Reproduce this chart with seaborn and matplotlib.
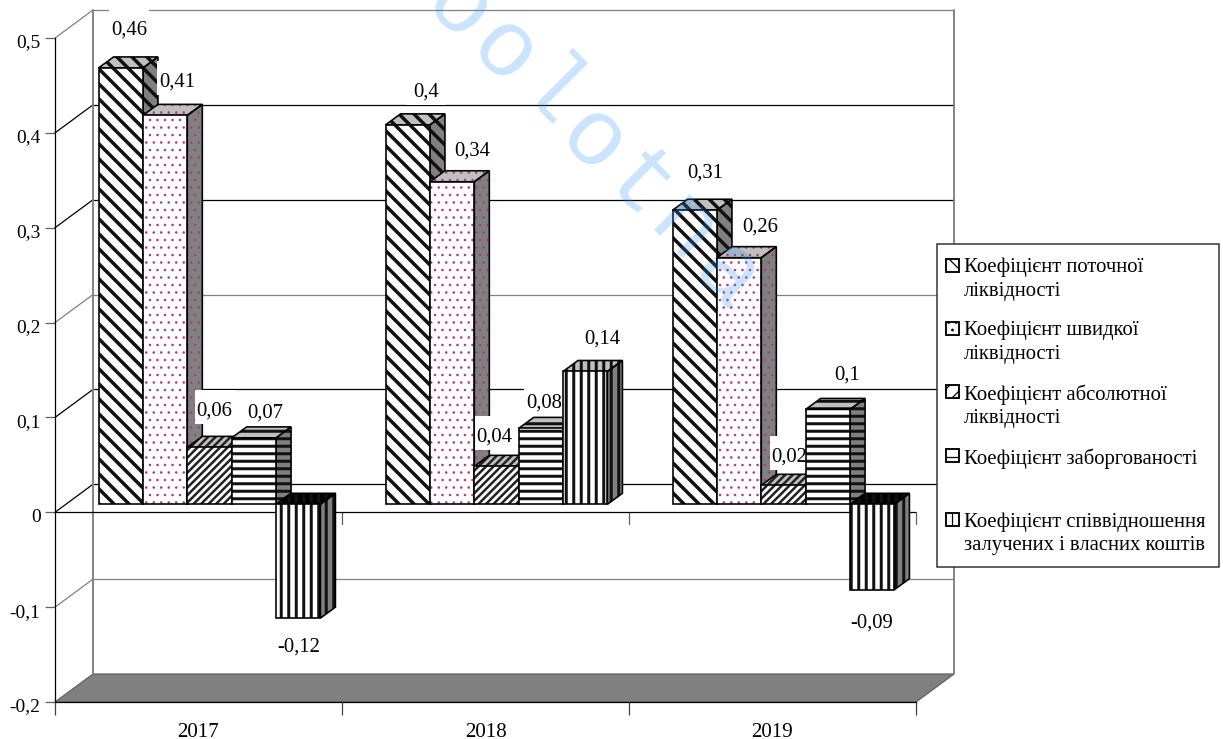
import numpy as np
import pandas as pd
import matplotlib
matplotlib.use("Agg")
import matplotlib.pyplot as plt
import seaborn as sns
from matplotlib.patches import Polygon, Patch, Rectangle
from matplotlib.legend_handler import HandlerPatch
from matplotlib.ticker import FuncFormatter
from matplotlib.transforms import IdentityTransform, ScaledTranslation

# дані
years = ["2017", "2018", "2019"]
series_names = [
    "Коефіцієнт поточної\nліквідності",
    "Коефіцієнт швидкої\nліквідності",
    "Коефіцієнт абсолютної\nліквідності",
    "Коефіцієнт заборгованості\n ",
    "Коефіцієнт співвідношення\nзалучених і власних коштів",
]
current_ratio = [0.46, 0.40, 0.31]
quick_ratio = [0.41, 0.34, 0.26]
absolute_ratio = [0.06, 0.04, 0.02]
debt_ratio = [0.07, 0.08, 0.10]
leverage_ratio = [-0.12, 0.14, -0.09]

# зсув підписів від вершини стовпця, пікселі
label_shift = [
    [(8, 39), (18, 34), (10, 38)],
    [(12, 34), (20, 32), (21, 32)],
    [(5, 37), (-2, 30), (6, 29)],
    [(11, 26), (3, 26), (19, 35)],
    [(0, -28), (17, 33), (-1, -32)],
]

# стиль кожного ряду
hatches = ["\\\\", "..", "////", "--", "||"]
hatch_widths = [2.8, 0.8, 2.0, 2.4, 2.4]
hatch_colors = ["#111111", "#b03a78", "#222222", "#111111", "#111111"]
legend_hatches = ["\\\\", "..", "//", "-", "|"]

DPI = 90
W, H = 1223, 740
FONT = 15.5
LABEL_FONT = 16.5

sns.set_theme(style="white")
plt.rcParams["font.family"] = ["Liberation Serif", "DejaVu Serif"]
plt.rcParams["axes.unicode_minus"] = False

df = pd.DataFrame({
    "year": years * 5,
    "series": np.repeat(series_names, 3),
    "value": current_ratio + quick_ratio + absolute_ratio + debt_ratio + leverage_ratio,
})

fig = plt.figure(figsize=(W / DPI, H / DPI), dpi=DPI, facecolor="white")


def px_axes(left, top, right, bottom):
    return [left / W, 1 - bottom / H, (right - left) / W, (bottom - top) / H]


# передня площина: осі та стінки
ax = fig.add_axes(px_axes(55, 39, 916, 703), facecolor="none")
ax.set_xlim(-0.5, 2.5)
ax.set_ylim(-0.2, 0.5)

# площина стовпців трохи зсунута вглиб
ax_bars = fig.add_axes(px_axes(66, 31, 927, 695), facecolor="none", zorder=3)
sns.barplot(data=df, x="year", y="value", hue="series", hue_order=series_names,
            order=years, palette=["white"] * 5, width=0.773, gap=0, dodge=True,
            legend=False, saturation=1, ax=ax_bars)
ax_bars.set_xlim(-0.5, 2.5)
ax_bars.set_ylim(-0.2, 0.5)
ax_bars.axis("off")

# стінки
wall_dx = 38 / 287
wall_dy = 28 / 948.6
tick_vals = [0.5, 0.4, 0.3, 0.2, 0.1, 0, -0.1]
grid_colors = ["#808080", "black", "black", "#808080", "black", "black", "#808080"]
GREY = "#808080"
ax.add_patch(Polygon([(-0.5, -0.2), (-0.5 + wall_dx, -0.2 + wall_dy),
                      (2.5 + wall_dx, -0.2 + wall_dy), (2.5, -0.2)],
                     closed=True, facecolor=GREY, edgecolor="#606060", lw=1, clip_on=False))
for val, col in zip(tick_vals, grid_colors):
    y = val + wall_dy
    ax.plot([-0.5 + wall_dx, 2.5 + wall_dx], [y, y], color=col, lw=1, clip_on=False, zorder=1)
    ax.plot([-0.5, -0.5 + wall_dx], [val, y], color=col, lw=1, clip_on=False, zorder=1)
for x in [-0.5 + wall_dx, 2.5 + wall_dx]:
    ax.plot([x, x], [-0.2 + wall_dy, 0.5 + wall_dy], color=GREY, lw=1.5, clip_on=False, zorder=1)
ax.axhline(0, color="black", lw=1, zorder=2)

# осі
sns.despine(ax=ax, top=True, right=True)
for side in ["left", "bottom"]:
    ax.spines[side].set_color("black")
    ax.spines[side].set_linewidth(1)
ax.set_yticks([-0.2, -0.1, 0, 0.1, 0.2, 0.3, 0.4, 0.5])
ax.yaxis.set_major_formatter(FuncFormatter(lambda v, _: f"{v:.1f}".replace(".", ",") if abs(v) > 1e-9 else "0"))
ax.tick_params(axis="y", left=True, length=8, width=1, color="#606060", labelsize=FONT, pad=3.5, labelcolor="black")
for lab in ax.get_yticklabels():
    lab.set_transform(lab.get_transform() + ScaledTranslation(0, -2 / DPI, fig.dpi_scale_trans))
ax.set_xticks([-0.5, 0.5, 1.5, 2.5])
ax.set_xticklabels([])
ax.set_xticks([0, 1, 2], minor=True)
ax.set_xticklabels(years, minor=True, fontsize=16.8, color="black")
ax.tick_params(axis="x", which="major", bottom=True, length=10, width=1, color="#404040")
ax.tick_params(axis="x", which="minor", bottom=False, length=0, pad=16.3)
ax.set_xlabel("")
ax.set_ylabel("")
for x in [0.5, 1.5, 2.5]:
    ax.plot([x, x], [0, -0.0125], color="#606060", lw=1, clip_on=False, zorder=1)

# об'ємні стовпці
depth_x = 15 / 287
depth_y = 11 / 948.6


def solid(axes, pts, fill, hatch, hw, hcol, z):
    p = Polygon(pts, closed=True, facecolor=fill, edgecolor=hcol, hatch=hatch, lw=0, zorder=z, clip_on=False)
    p.set_hatch_linewidth(hw)
    axes.add_patch(p)
    axes.add_patch(Polygon(pts, closed=True, fill=False, edgecolor="black", lw=1.3, zorder=z + 0.1, clip_on=False))


for s, container in enumerate(ax_bars.containers):
    for c, bar in enumerate(container):
        x0, x1 = bar.get_x(), bar.get_x() + bar.get_width()
        val = df["value"].to_numpy()[s * 3 + c]
        y_low, y_high = min(val, 0), max(val, 0)
        z = 4 + c * 10 + s
        dx, dy = depth_x, depth_y
        top_fill = "black" if val < 0 else "#c0c0c0"
        solid(ax_bars, [(x0, y_high), (x0 + dx, y_high + dy), (x1 + dx, y_high + dy), (x1, y_high)],
              top_fill, hatches[s], hatch_widths[s], hatch_colors[s], z)
        solid(ax_bars, [(x1, y_low), (x1 + dx, y_low + dy), (x1 + dx, y_high + dy), (x1, y_high)],
              GREY, hatches[s], hatch_widths[s], hatch_colors[s], z)
        bar.set_facecolor("white")
        bar.set_edgecolor(hatch_colors[s])
        bar.set_linewidth(0)
        bar.set_hatch(hatches[s])
        bar.set_hatch_linewidth(hatch_widths[s])
        bar.set_zorder(z + 0.2)
        bar.set_clip_on(False)
        ax_bars.add_patch(Rectangle((x0, y_low), x1 - x0, y_high - y_low, fill=False,
                                    edgecolor="black", lw=1.3, zorder=z + 0.3, clip_on=False))
        # підпис на білому тлі; наступні стовпці перекривають тло
        xc = bar.get_x() + bar.get_width() / 2
        sx, sy = label_shift[s][c]
        px, py = ax_bars.transData.transform((xc, val))
        ax_bars.add_patch(Rectangle((px + sx - 20, py + sy - 14), 40, 34, transform=IdentityTransform(),
                                    facecolor="white", edgecolor="none", zorder=z + 0.5, clip_on=False))
        ax_bars.annotate(f"{val:g}".replace(".", ","), xy=(xc, val),
                         xytext=(sx, sy), textcoords="offset pixels",
                         ha="center", va="center", fontsize=LABEL_FONT, color="black", zorder=60,
                         annotation_clip=False)


# легенда
def square_handle(legend, orig_handle, xdescent, ydescent, width, height, fontsize):
    return Rectangle((width - 13 / DPI * 72, height * 0.5 + 5), 13 / DPI * 72, 13 / DPI * 72)


handles = [Patch(facecolor="white", edgecolor="black", hatch=legend_hatches[i], lw=1.5,
                 label=series_names[i]) for i in range(5)]
for h, hw in zip(handles, hatch_widths):
    h.set_hatch_linewidth(hw * 0.7)
leg = fig.legend(handles=handles, loc="upper left", bbox_to_anchor=(937 / W, 1 - 245 / H),
                 bbox_transform=fig.transFigure, fontsize=16.5, frameon=True, fancybox=False,
                 framealpha=1, edgecolor="#303030", borderaxespad=0, borderpad=0.62,
                 labelspacing=0.97, handlelength=0.45, handleheight=0.75, handletextpad=0.25,
                 handler_map={Patch: HandlerPatch(patch_func=square_handle)})
leg.set_zorder(50)
leg.get_frame().set_linewidth(1.2)
for t in leg.get_texts():
    t.set_color("black")
    t.set_linespacing(1.33)

# водяний знак
for i, letter in enumerate("oolotna"):
    fig.text((441 + 44.7 * i) / W, 1 - (27 + 44.5 * i) / H, letter, rotation=-45, rotation_mode="anchor",
             ha="center", va="baseline", fontsize=76, color="#2f95f5", alpha=0.25,
             family="Liberation Mono", zorder=70)

fig.savefig("out.png", dpi=DPI)
